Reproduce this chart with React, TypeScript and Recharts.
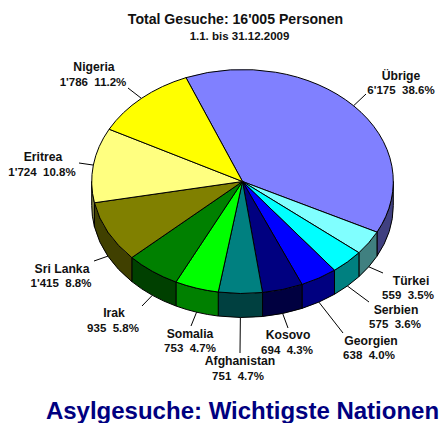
import React from 'react';
import { PieChart, Pie, Cell } from 'recharts';

const nations = ['Übrige', 'Türkei', 'Serbien', 'Georgien', 'Kosovo', 'Afghanistan', 'Somalia', 'Irak', 'Sri Lanka', 'Eritrea', 'Nigeria'];
const requests = [6175, 559, 575, 638, 694, 751, 753, 935, 1415, 1724, 1786];
const topColors = ['#8080ff', '#80ffff', '#00ffff', '#0000ff', '#000080', '#008080', '#00ff00', '#008000', '#808000', '#ffff80', '#ffff00'];
const wallColors = ['#404080', '#408080', '#008080', '#000080', '#000040', '#004040', '#008000', '#004000', '#404000', '#808040', '#808000'];

// Layout of the callouts: end of the leader line, centre of name and value rows
const leaderEnds = [[366, 94], [383, 273], [369, 302], [343, 333], [288, 328], [240, 353], [191, 326], [142, 306], [94, 261], [79, 163], [128, 88]];
const nameCentres = [[401, 76], [411, 281], [396, 310], [371, 341], [288, 335], [240, 361], [190, 334], [114, 313], [62, 269], [43, 157], [94, 67]];
const valueCentres = [[401, 90], [408, 295], [395, 324], [369, 355], [287, 350], [238, 376], [190, 348], [113, 328], [61, 283], [42, 172], [93, 82]];

const total = requests.reduce((a, b) => a + b, 0);
const fmt = (v: number) => (v >= 1000 ? `${Math.floor(v / 1000)}'${String(v % 1000).padStart(3, '0')}` : String(v));
const data = nations.map((name, i) => ({ name, value: requests[i] }));

const CX = 242.5;
const CY = 181.5;
const RX = 150.8;
const RY = 112;
const DEPTH = 24;
const FONT = '"Liberation Sans", Arial, sans-serif';

const pt = (deg: number, dy = 0) => {
  const t = (deg * Math.PI) / 180;
  return [CX + RX * Math.cos(t), CY - RY * Math.sin(t) + dy];
};

const SliceShape = (props: any) => {
  const hi = Math.max(props.startAngle, props.endAngle);
  const lo = Math.min(props.startAngle, props.endAngle);
  const idx = nations.indexOf(props.payload?.name ?? props.name);
  const [x0, y0] = pt(hi);
  const [x1, y1] = pt(lo);
  const large = hi - lo > 180 ? 1 : 0;
  const wHi = Math.min(hi, 0);
  const wLo = Math.max(lo, -180);
  let wall = null;
  if (wHi > wLo) {
    const [a, b] = pt(wHi);
    const [c, d] = pt(wLo);
    wall = (
      <path
        d={`M${a},${b} A${RX},${RY} 0 0 1 ${c},${d} L${c},${d + DEPTH} A${RX},${RY} 0 0 0 ${a},${b + DEPTH} Z`}
        fill={wallColors[idx]}
        stroke="#000"
        strokeWidth={1}
      />
    );
  }
  return (
    <g>
      {wall}
      <path
        d={`M${CX},${CY} L${x0},${y0} A${RX},${RY} 0 ${large} 1 ${x1},${y1} Z`}
        fill={props.fill}
        stroke="#000"
        strokeWidth={1}
      />
    </g>
  );
};

const Callout = (props: any) => {
  const i = props.index;
  const mid = props.midAngle;
  const norm = ((mid % 360) + 360) % 360;
  const [sx, sy] = pt(mid, norm > 180 ? DEPTH : 0);
  const [ex, ey] = leaderEnds[i];
  const common = { fontFamily: FONT, fontWeight: 700, fill: '#111', textAnchor: 'middle' as const, dominantBaseline: 'central' as const };
  return (
    <g>
      <line x1={sx} y1={sy} x2={ex} y2={ey} stroke="#000" strokeWidth={1} />
      <text x={nameCentres[i][0]} y={nameCentres[i][1]} fontSize={12.2} {...common}>{nations[i]}</text>
      <text x={valueCentres[i][0]} y={valueCentres[i][1]} fontSize={11.5} {...common} style={{ whiteSpace: 'pre' }}>
        {`${fmt(requests[i])}  ${((requests[i] / total) * 100).toFixed(1)}%`}
      </text>
    </g>
  );
};

export default function App() {
  return (
    <div style={{ position: 'absolute', left: 0, top: 0, width: 441, height: 423, background: '#fff' }}>
      <PieChart width={441} height={423} margin={{ top: 0, right: 0, bottom: 0, left: 0 }}>
        <Pie
          data={data}
          dataKey="value"
          nameKey="name"
          cx={CX}
          cy={CY}
          outerRadius={RX}
          startAngle={112}
          endAngle={-248}
          isAnimationActive={false}
          shape={SliceShape}
          label={Callout}
          labelLine={false}
        >
          {data.map((d, i) => (
            <Cell key={d.name} fill={topColors[i]} />
          ))}
        </Pie>
        <text x={235.5} y={19} textAnchor="middle" dominantBaseline="central" fontFamily={FONT} fontWeight={700} fontSize={14.1} fill="#111">Total Gesuche: 16'005 Personen</text>
        <text x={239.5} y={36} textAnchor="middle" dominantBaseline="central" fontFamily={FONT} fontWeight={700} fontSize={11.5} fill="#111">1.1. bis 31.12.2009</text>
        <text x={242.5} y={410} textAnchor="middle" dominantBaseline="central" fontFamily={FONT} fontWeight={700} fontSize={24} fill="#000080">Asylgesuche: Wichtigste Nationen</text>
      </PieChart>
    </div>
  );
}
